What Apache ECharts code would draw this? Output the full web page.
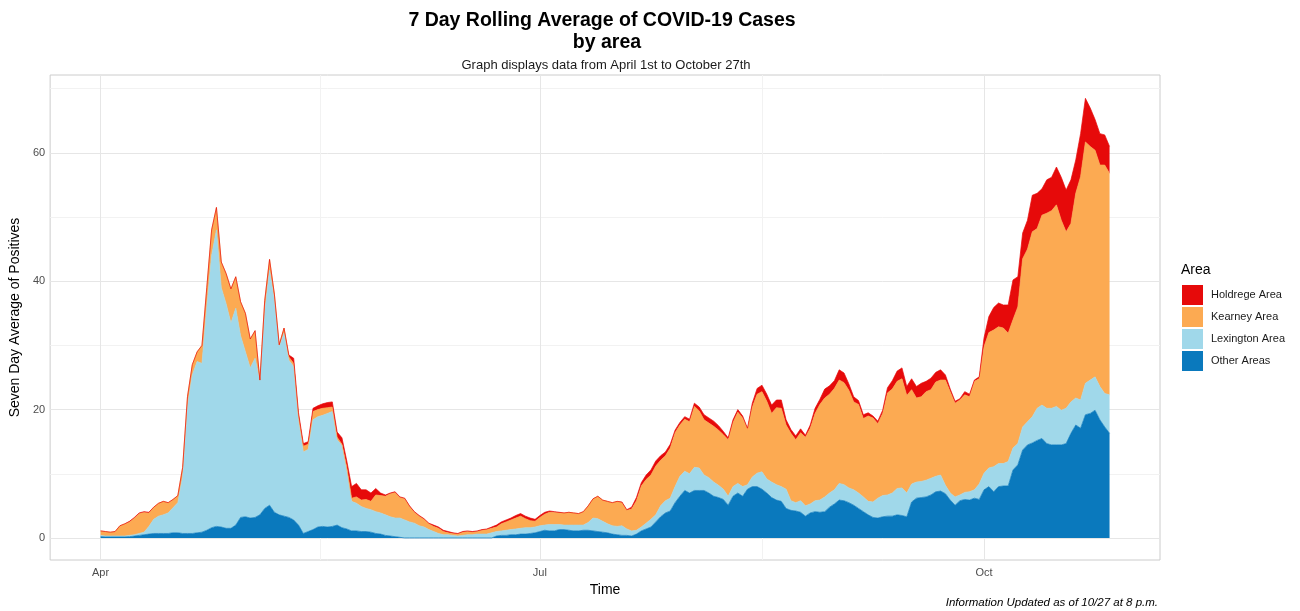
<!DOCTYPE html>
<html>
<head>
<meta charset="utf-8">
<title>7 Day Rolling Average of COVID-19 Cases</title>
<script src="https://cdn.jsdelivr.net/npm/echarts@6.0.0/dist/echarts.min.js"></script>
<style>
  html, body { margin: 0; padding: 0; background: #fff; }
  #chart-container { width: 1300px; height: 611px; }
</style>
</head>
<body>
<div id="chart-container"></div>
<script>
// day 0 = April 1st, last day (209) = October 27th
var tickDays = [0, 91, 183];
var tickLabels = ['Apr', 'Jul', 'Oct'];
var gridDays = [0, 45.5, 91, 137, 183];
var yTicks = [0, 20, 40, 60];
var yGrid = [0, 10, 20, 30, 40, 50, 60, 70];

var otherAreas = [
  0.2,0.2,0.2,0.2,0.2,0.2,0.2,0.3,0.4,0.5,
  0.6,0.7,0.7,0.7,0.7,0.8,0.8,0.7,0.7,0.7,
  0.8,0.9,1.2,1.6,1.8,1.7,1.5,1.5,2.0,3.2,
  3.3,3.1,3.2,3.6,4.6,5.1,4.0,3.6,3.4,3.2,
  2.8,2.0,0.7,1.0,1.3,1.7,1.8,1.7,1.8,2.0,
  1.6,1.4,1.1,1.1,1.0,1.0,0.9,0.7,0.6,0.4,
  0.3,0.2,0.1,0,0,0,0,0,0,0,
  0,0,0,0,0,0,0,0,0,0,
  0,0,0.3,0.4,0.4,0.5,0.5,0.6,0.6,0.7,
  0.8,1.0,1.2,1.1,1.1,1.3,1.3,1.2,1.1,1.1,
  1.2,1.2,1.1,1.0,0.9,0.8,0.6,0.5,0.4,0.4,
  0.3,0.6,1.1,1.4,1.7,2.5,3.3,3.9,4.2,5.5,
  6.5,7.4,7.0,7.4,7.4,7.4,7.0,6.5,6.3,6.0,
  5.1,6.5,7.0,6.5,7.6,8.0,8.0,7.6,7.0,6.3,
  5.9,5.7,4.6,4.3,4.2,4.0,3.4,3.9,4.1,4.0,
  4.1,4.8,5.3,5.9,5.8,5.5,5.1,4.6,4.1,3.6,
  3.2,3.1,3.3,3.4,3.4,3.6,3.5,3.3,5.6,6.2,
  6.3,6.4,6.7,7.2,7.3,6.9,5.9,5.1,5.8,6.0,
  5.9,6.2,6.0,7.5,8.0,7.2,8.0,8.1,8.1,10.6,
  11.4,13.7,14.5,14.8,15.2,15.5,14.7,14.5,14.5,14.5,
  14.7,16.3,17.6,17.1,19.2,19.4,19.9,18.4,17.3,16.3
];

var lexington = [
  0.2,0.1,0.1,0.1,0.1,0.1,0.2,0.2,0.3,0.4,
  1.2,2.2,2.7,2.9,3.2,3.9,4.7,8.8,19.8,24.7,
  26.7,26.3,34.8,42.4,46.2,37.3,35.0,32.0,33.8,28.3,
  25.7,23.4,24.8,20.8,30.6,36.6,33.0,26.2,28.5,24.5,
  23.9,16.2,12.7,12.8,17.1,17.2,17.3,17.7,17.9,13.3,
  12.8,9.0,4.6,4.3,3.9,3.6,3.5,3.4,3.3,3.2,
  3.0,2.9,3.0,2.8,2.5,2.3,1.9,1.7,1.3,1.0,
  0.7,0.5,0.5,0.4,0.3,0.4,0.5,0.5,0.6,0.6,
  0.6,0.8,0.7,0.7,0.8,0.8,0.9,0.9,1.0,0.9,
  0.9,0.9,0.8,1.0,1.0,0.8,0.7,0.8,0.9,0.9,
  0.8,1.2,2.0,2.0,1.7,1.4,1.3,1.3,1.5,1.0,
  0.8,0.6,0.6,0.9,1.2,1.1,1.7,1.9,2.0,2.5,
  3.1,3.0,3.0,3.6,3.5,2.4,2.4,2.2,1.9,1.6,
  1.4,1.5,1.5,1.5,0.7,1.5,2.1,2.7,2.2,2.4,
  2.4,2.3,3.0,1.5,1.3,1.8,1.6,1.4,1.7,1.9,
  2.3,2.2,2.2,2.6,2.5,2.3,2.4,2.4,2.3,2.1,
  2.4,3.1,3.3,3.3,3.6,4.1,4.3,3.7,2.8,2.5,
  2.5,2.6,2.6,2.4,2.5,1.3,1.1,1.3,0.9,1.1,
  1.3,1.3,2.4,2.6,2.9,3.9,3.6,3.5,3.8,3.4,
  3.3,3.6,3.6,4.1,5.0,5.2,5.5,5.7,6.0,5.4,
  5.5,4.9,4.2,4.4,4.9,5.2,5.2,5.2,5.2,6.0
];

var kearney = [
  0.7,0.7,0.6,0.7,1.6,1.9,2.1,2.6,3.1,3.1,
  2.1,1.9,2.0,2.1,1.6,1.3,1.1,1.5,1.5,1.6,
  1.5,2.8,3.0,4.0,3.5,4.0,4.7,5.3,4.9,5.3,
  6.0,4.5,4.3,0.2,1.8,1.7,1.0,0.3,0.8,0.5,
  0.5,0.8,0.9,0.8,1.3,1.1,1.1,0.9,0.7,0.4,
  0.2,0.6,0.5,1.0,1.0,1.4,1.3,2.6,2.7,2.9,
  3.6,4.0,3.2,3.3,2.4,1.7,1.5,1.2,0.9,0.8,
  0.8,0.5,0.3,0.3,0.3,0.5,0.5,0.4,0.4,0.6,
  0.7,0.7,0.7,1.1,1.3,1.5,1.7,1.9,1.4,1.1,
  0.9,1.3,1.7,1.9,1.9,1.8,1.9,2.0,1.9,1.8,
  2.1,2.6,3.0,3.5,3.3,3.5,3.6,3.9,3.6,2.9,
  3.4,4.6,6.4,6.8,6.9,7.6,7.1,7.0,7.8,8.4,
  8.0,8.1,8.1,9.5,8.9,8.6,8.5,8.7,8.6,8.5,
  8.8,10.0,11.1,10.7,8.7,10.9,12.3,12.5,12.1,10.7,
  12.0,12.2,10.0,10.5,9.8,10.6,10.7,11.8,13.6,14.9,
  15.4,15.4,15.8,16.1,15.9,15.2,13.7,13.8,12.2,13.3,
  13.1,11.6,12.8,15.9,16.2,16.7,17.0,15.2,14.7,13.1,
  13.2,13.8,13.8,14.7,14.8,16.4,15.8,14.6,14.8,15.2,
  14.8,16.9,16.4,19.7,21.1,21.3,21.3,21.1,20.0,20.0,
  21.3,26.2,26.9,28.8,28.0,29.6,30.4,30.8,31.4,29.6,
  27.5,27.8,31.9,34.8,37.6,36.4,35.3,34.5,35.6,34.5
];

var holdrege = [
  0,0,0,0,0,0,0.1,0.1,0.1,0.1,
  0.1,0,0,0,0,0,0,0,0,0,
  0,0,0,0,0,0,0,0,0,0,
  0,0,0,0,0,0,0,0,0,0.3,
  0.8,0.5,0.4,0.4,0.5,0.6,0.7,0.8,0.8,0.8,
  1.0,1.0,1.8,2.1,1.6,1.5,1.3,1.0,0.4,0.2,
  0.1,0.1,0.1,0.1,0.1,0.1,0.1,0.1,0.1,0.2,
  0.2,0.2,0.2,0.1,0.1,0.1,0.1,0.1,0.1,0.1,
  0.1,0.2,0.3,0.3,0.3,0.3,0.4,0.4,0.4,0.4,
  0.3,0.3,0.3,0.2,0.1,0.1,0,0,0,0,
  0,0,0,0,0,0,0,0,0.1,0.1,
  0.3,0.5,0.5,0.7,0.8,0.8,0.7,0.6,0.6,0.4,
  0.4,0.4,0.4,0.5,0.6,0.8,0.8,0.8,0.7,0.5,
  0.3,0.4,0.4,0.3,0.1,0.6,0.9,1.0,1.1,1.3,
  1.2,1.3,0.8,0.6,0.6,0.6,0.3,0.5,0.8,0.8,
  1.4,1.3,1.2,1.6,1.5,1.0,0.8,0.6,0.6,0.5,
  0.3,0.4,0.5,0.8,1.3,1.6,1.7,1.4,1.7,1.8,
  2.1,1.6,1.8,1.5,1.6,0.8,0.4,0.3,0.2,0.5,
  0.4,0.2,0.3,1.4,2.5,3.5,3.7,3.6,4.4,6.2,
  4.7,4.0,4.5,5.7,5.5,4.1,5.2,5.2,5.9,6.7,
  6.5,6.8,5.2,6.7,6.8,6.0,4.8,4.9,4.7,4.2
];

var areaNames = ['Holdrege Area', 'Kearney Area', 'Lexington Area', 'Other Areas'];
var areaColors = {
  'Holdrege Area': '#e60a0a',
  'Kearney Area': '#fcaa52',
  'Lexington Area': '#a0d8ea',
  'Other Areas': '#0a79bd'
};

// value first, day second, so the stack goes on the count (y) dimension
function toRows(values) {
  return values.map(function (v, i) { return [v, i]; });
}

function areaSeries(name, values) {
  return {
    name: name,
    type: 'line',
    stack: 'all',
    symbol: 'none',
    smooth: false,
    dimensions: ['count', 'day'],
    encode: { x: 'day', y: 'count' },
    color: areaColors[name],
    lineStyle: { width: 0.7, color: areaColors[name] },
    areaStyle: { color: areaColors[name], opacity: 1 },
    data: toRows(values)
  };
}

var FONT = 'Liberation Sans, Arial, sans-serif';

var dom = document.getElementById('chart-container');
var myChart = echarts.init(dom, null, { renderer: 'canvas' });

var option = {
  animation: false,
  backgroundColor: '#ffffff',
  textStyle: { fontFamily: FONT },
  title: [
    {
      text: '7 Day Rolling Average of COVID-19 Cases',
      left: 597,
      top: 5,
      textAlign: 'center',
      textStyle: { fontSize: 19.5, fontWeight: 'bold', color: '#000', lineHeight: 22, fontFamily: FONT }
    },
    {
      text: 'by area',
      left: 602,
      top: 27,
      textAlign: 'center',
      textStyle: { fontSize: 19.5, fontWeight: 'bold', color: '#000', lineHeight: 22, fontFamily: FONT }
    },
    {
      text: 'Graph displays data from April 1st to October 27th',
      left: 601,
      top: 54,
      textAlign: 'center',
      textStyle: { fontSize: 13, fontWeight: 'normal', color: '#1a1a1a', fontFamily: FONT }
    }
  ],
  legend: {
    data: areaNames,
    orient: 'vertical',
    left: 1182,
    top: 285,
    padding: 0,
    icon: 'rect',
    itemWidth: 21,
    itemHeight: 20,
    itemGap: 2,
    selectedMode: false,
    textStyle: { fontSize: 11, color: '#1a1a1a', fontFamily: FONT, padding: [0, 0, 0, 3] }
  },
  graphic: [
    {
      type: 'text',
      left: 1181,
      top: 263,
      style: { text: 'Area', fontSize: 14, fill: '#000', fontFamily: FONT }
    },
    {
      type: 'text',
      right: 142,
      top: 597,
      style: { text: 'Information Updated as of 10/27 at 8 p.m.', fontSize: 11.5, fontStyle: 'italic', fill: '#000', fontFamily: FONT }
    }
  ],
  grid: {
    left: 49,
    right: 140,
    top: 75,
    bottom: 51,
    show: true,
    borderColor: '#cccccc',
    borderWidth: 1,
    containLabel: false
  },
  xAxis: {
    type: 'value',
    min: -10.45,
    max: 219.45,
    name: 'Time',
    nameLocation: 'middle',
    nameGap: 19,
    nameTextStyle: { fontSize: 14, color: '#000', fontFamily: FONT },
    axisLine: { show: false },
    axisTick: { show: false, customValues: gridDays },
    axisLabel: {
      customValues: tickDays,
      color: '#4d4d4d',
      fontSize: 11,
      margin: 7,
      formatter: function (v) {
        var k = tickDays.indexOf(v);
        return k >= 0 ? tickLabels[k] : '';
      }
    },
    splitLine: { show: true, lineStyle: { color: ['#e6e6e6', '#f2f2f2'], width: 1 } }
  },
  yAxis: {
    type: 'value',
    min: -3.435,
    max: 72.135,
    name: 'Seven Day Average of Positives',
    nameLocation: 'middle',
    nameGap: 21,
    nameTextStyle: { fontSize: 14, color: '#000', fontFamily: FONT },
    axisLine: { show: false },
    axisTick: { show: false, customValues: yGrid },
    axisLabel: {
      customValues: yTicks,
      color: '#4d4d4d',
      fontSize: 11,
      margin: 5
    },
    splitLine: { show: true, lineStyle: { color: ['#e6e6e6', '#f2f2f2'], width: 1 } }
  },
  series: [
    areaSeries('Other Areas', otherAreas),
    areaSeries('Lexington Area', lexington),
    areaSeries('Kearney Area', kearney),
    areaSeries('Holdrege Area', holdrege)
  ]
};

myChart.setOption(option);
</script>
</body>
</html>
